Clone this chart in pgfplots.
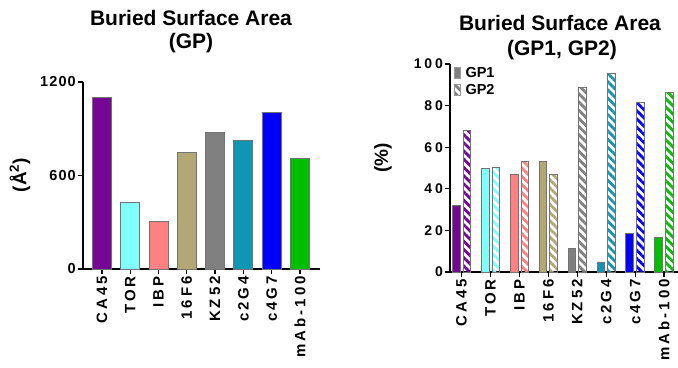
\documentclass[border=0pt]{standalone}
\usepackage{pgfplots}
\pgfplotsset{compat=1.18}
\usetikzlibrary{patterns.meta}
\usepackage{fontspec}
\setmainfont{Liberation Sans}
\newfontfamily\spacedfont[LetterSpace=20]{Liberation Sans}
\newfontfamily\numfont[LetterSpace=8]{Liberation Sans}
\definecolor{cPur}{RGB}{116,8,148}
\definecolor{cCya}{RGB}{128,255,255}
\definecolor{cSal}{RGB}{255,128,128}
\definecolor{cKha}{RGB}{178,168,118}
\definecolor{cGra}{RGB}{128,128,128}
\definecolor{cTea}{RGB}{16,150,178}
\definecolor{cBlu}{RGB}{0,0,255}
\definecolor{cGre}{RGB}{0,190,0}
\tikzset{hatch/.style={pattern={Lines[angle=-45,distance=5.8bp,line width=2.8bp]},pattern color=#1}}
\newcommand{\legfont}{\bfseries\fontsize{14.5bp}{16bp}\selectfont}
\pgfplotsset{
  gpaxis/.style={
    scale only axis,
    axis lines=left,
    x axis line style={-, line width=1.3bp},
    y axis line style={-, line width=1.3bp},
    tick align=outside,
    major tick length=5bp,
    tick style={black, line width=1.3bp},
    xtick={0,...,7},
    xticklabels={CA45,TOR,IBP,16F6,KZ52,c2G4,c4G7,mAb-100},
    x tick label style={rotate=90, anchor=east, font=\spacedfont\bfseries\fontsize{15bp}{17bp}\selectfont, inner sep=2bp},
    y tick label style={font=\numfont\bfseries\fontsize{14.5bp}{16bp}\selectfont, inner sep=2bp},
    /pgf/number format/assume math mode=true,
    /pgf/number format/1000 sep={},
    clip=false,
  },
  bord/.style={draw=black!55, line width=0.8bp},
}
\begin{document}
\begin{tikzpicture}
\useasboundingbox (0,0) rectangle (678bp,368bp);
\begin{axis}[gpaxis,
  at={(83bp,99bp)}, anchor=south west,
  width=237bp, height=187bp,
  xmin=-0.67, xmax=7.71, ymin=0, ymax=1200,
  ytick={0,600,1200},
]
\addplot[ybar, bar width=0.67, bar shift=0, bord, fill=cPur] coordinates {(0,1100)};
\addplot[ybar, bar width=0.67, bar shift=0, bord, fill=cCya] coordinates {(1,428)};
\addplot[ybar, bar width=0.67, bar shift=0, bord, fill=cSal] coordinates {(2,306)};
\addplot[ybar, bar width=0.67, bar shift=0, bord, fill=cKha] coordinates {(3,749)};
\addplot[ybar, bar width=0.67, bar shift=0, bord, fill=cGra] coordinates {(4,875)};
\addplot[ybar, bar width=0.67, bar shift=0, bord, fill=cTea] coordinates {(5,828)};
\addplot[ybar, bar width=0.67, bar shift=0, bord, fill=cBlu] coordinates {(6,1003)};
\addplot[ybar, bar width=0.67, bar shift=0, bord, fill=cGre] coordinates {(7,712)};
\end{axis}
\begin{axis}[gpaxis,
  at={(450bp,96bp)}, anchor=south west,
  width=228bp, height=208bp,
  xmin=-0.4, xmax=7.48, ymin=0, ymax=100,
  ytick={0,20,...,100},
  y tick label style={font=\spacedfont\bfseries\fontsize{14bp}{16bp}\selectfont},
  legend style={at={(0.015,0.995)}, anchor=north west, draw=none, fill=none,
    row sep=1.5bp, inner sep=0pt},
  legend cell align=left,
  legend image code/.code={\draw[#1] (0bp,-5.5bp) rectangle (6.5bp,5.5bp);},
]
\addlegendimage{draw=black!40, fill=cGra}
\addlegendentry{\legfont\hspace{3bp}GP1}
\addlegendimage{draw=black!40, hatch=cGra}
\addlegendentry{\legfont\hspace{3bp}GP2}
% GP1
\addplot[ybar, bar width=0.27, bar shift=-0.187, bord, fill=cPur, forget plot] coordinates {(0,31.8)};
\addplot[ybar, bar width=0.27, bar shift=-0.187, bord, fill=cCya, forget plot] coordinates {(1,49.8)};
\addplot[ybar, bar width=0.27, bar shift=-0.187, bord, fill=cSal, forget plot] coordinates {(2,46.9)};
\addplot[ybar, bar width=0.27, bar shift=-0.187, bord, fill=cKha, forget plot] coordinates {(3,53.1)};
\addplot[ybar, bar width=0.27, bar shift=-0.187, bord, fill=cGra, forget plot] coordinates {(4,11.2)};
\addplot[ybar, bar width=0.27, bar shift=-0.187, bord, fill=cTea, forget plot] coordinates {(5,4.5)};
\addplot[ybar, bar width=0.27, bar shift=-0.187, bord, fill=cBlu, forget plot] coordinates {(6,18.5)};
\addplot[ybar, bar width=0.27, bar shift=-0.187, bord, fill=cGre, forget plot] coordinates {(7,16.5)};
% GP2
\addplot[ybar, bar width=0.27, bar shift=0.187, bord, hatch=cPur, forget plot] coordinates {(0,68.2)};
\addplot[ybar, bar width=0.27, bar shift=0.187, bord, hatch=cCya, forget plot] coordinates {(1,50.2)};
\addplot[ybar, bar width=0.27, bar shift=0.187, bord, hatch=cSal, forget plot] coordinates {(2,53.1)};
\addplot[ybar, bar width=0.27, bar shift=0.187, bord, hatch=cKha, forget plot] coordinates {(3,46.9)};
\addplot[ybar, bar width=0.27, bar shift=0.187, bord, hatch=cGra, forget plot] coordinates {(4,88.8)};
\addplot[ybar, bar width=0.27, bar shift=0.187, bord, hatch=cTea, forget plot] coordinates {(5,95.5)};
\addplot[ybar, bar width=0.27, bar shift=0.187, bord, hatch=cBlu, forget plot] coordinates {(6,81.5)};
\addplot[ybar, bar width=0.27, bar shift=0.187, bord, hatch=cGre, forget plot] coordinates {(7,86.5)};
\end{axis}
\begin{scope}[every node/.style={font=\bfseries\fontsize{21bp}{23bp}\selectfont, inner sep=0pt}]
\node at (191bp,350bp) {Buried Surface Area};
\node at (191bp,325bp) {(GP)};
\node at (560bp,345bp) {Buried Surface Area};
\node at (562bp,318bp) {(GP1, GP2)};
\end{scope}
\begin{scope}[every node/.style={font=\bfseries\fontsize{19bp}{21bp}\selectfont, inner sep=0pt, rotate=90}]
\node at (20bp,193bp) {(Å\textsuperscript{2})};
\node at (383bp,210bp) {(\%)};
\end{scope}
\end{tikzpicture}
\end{document}
